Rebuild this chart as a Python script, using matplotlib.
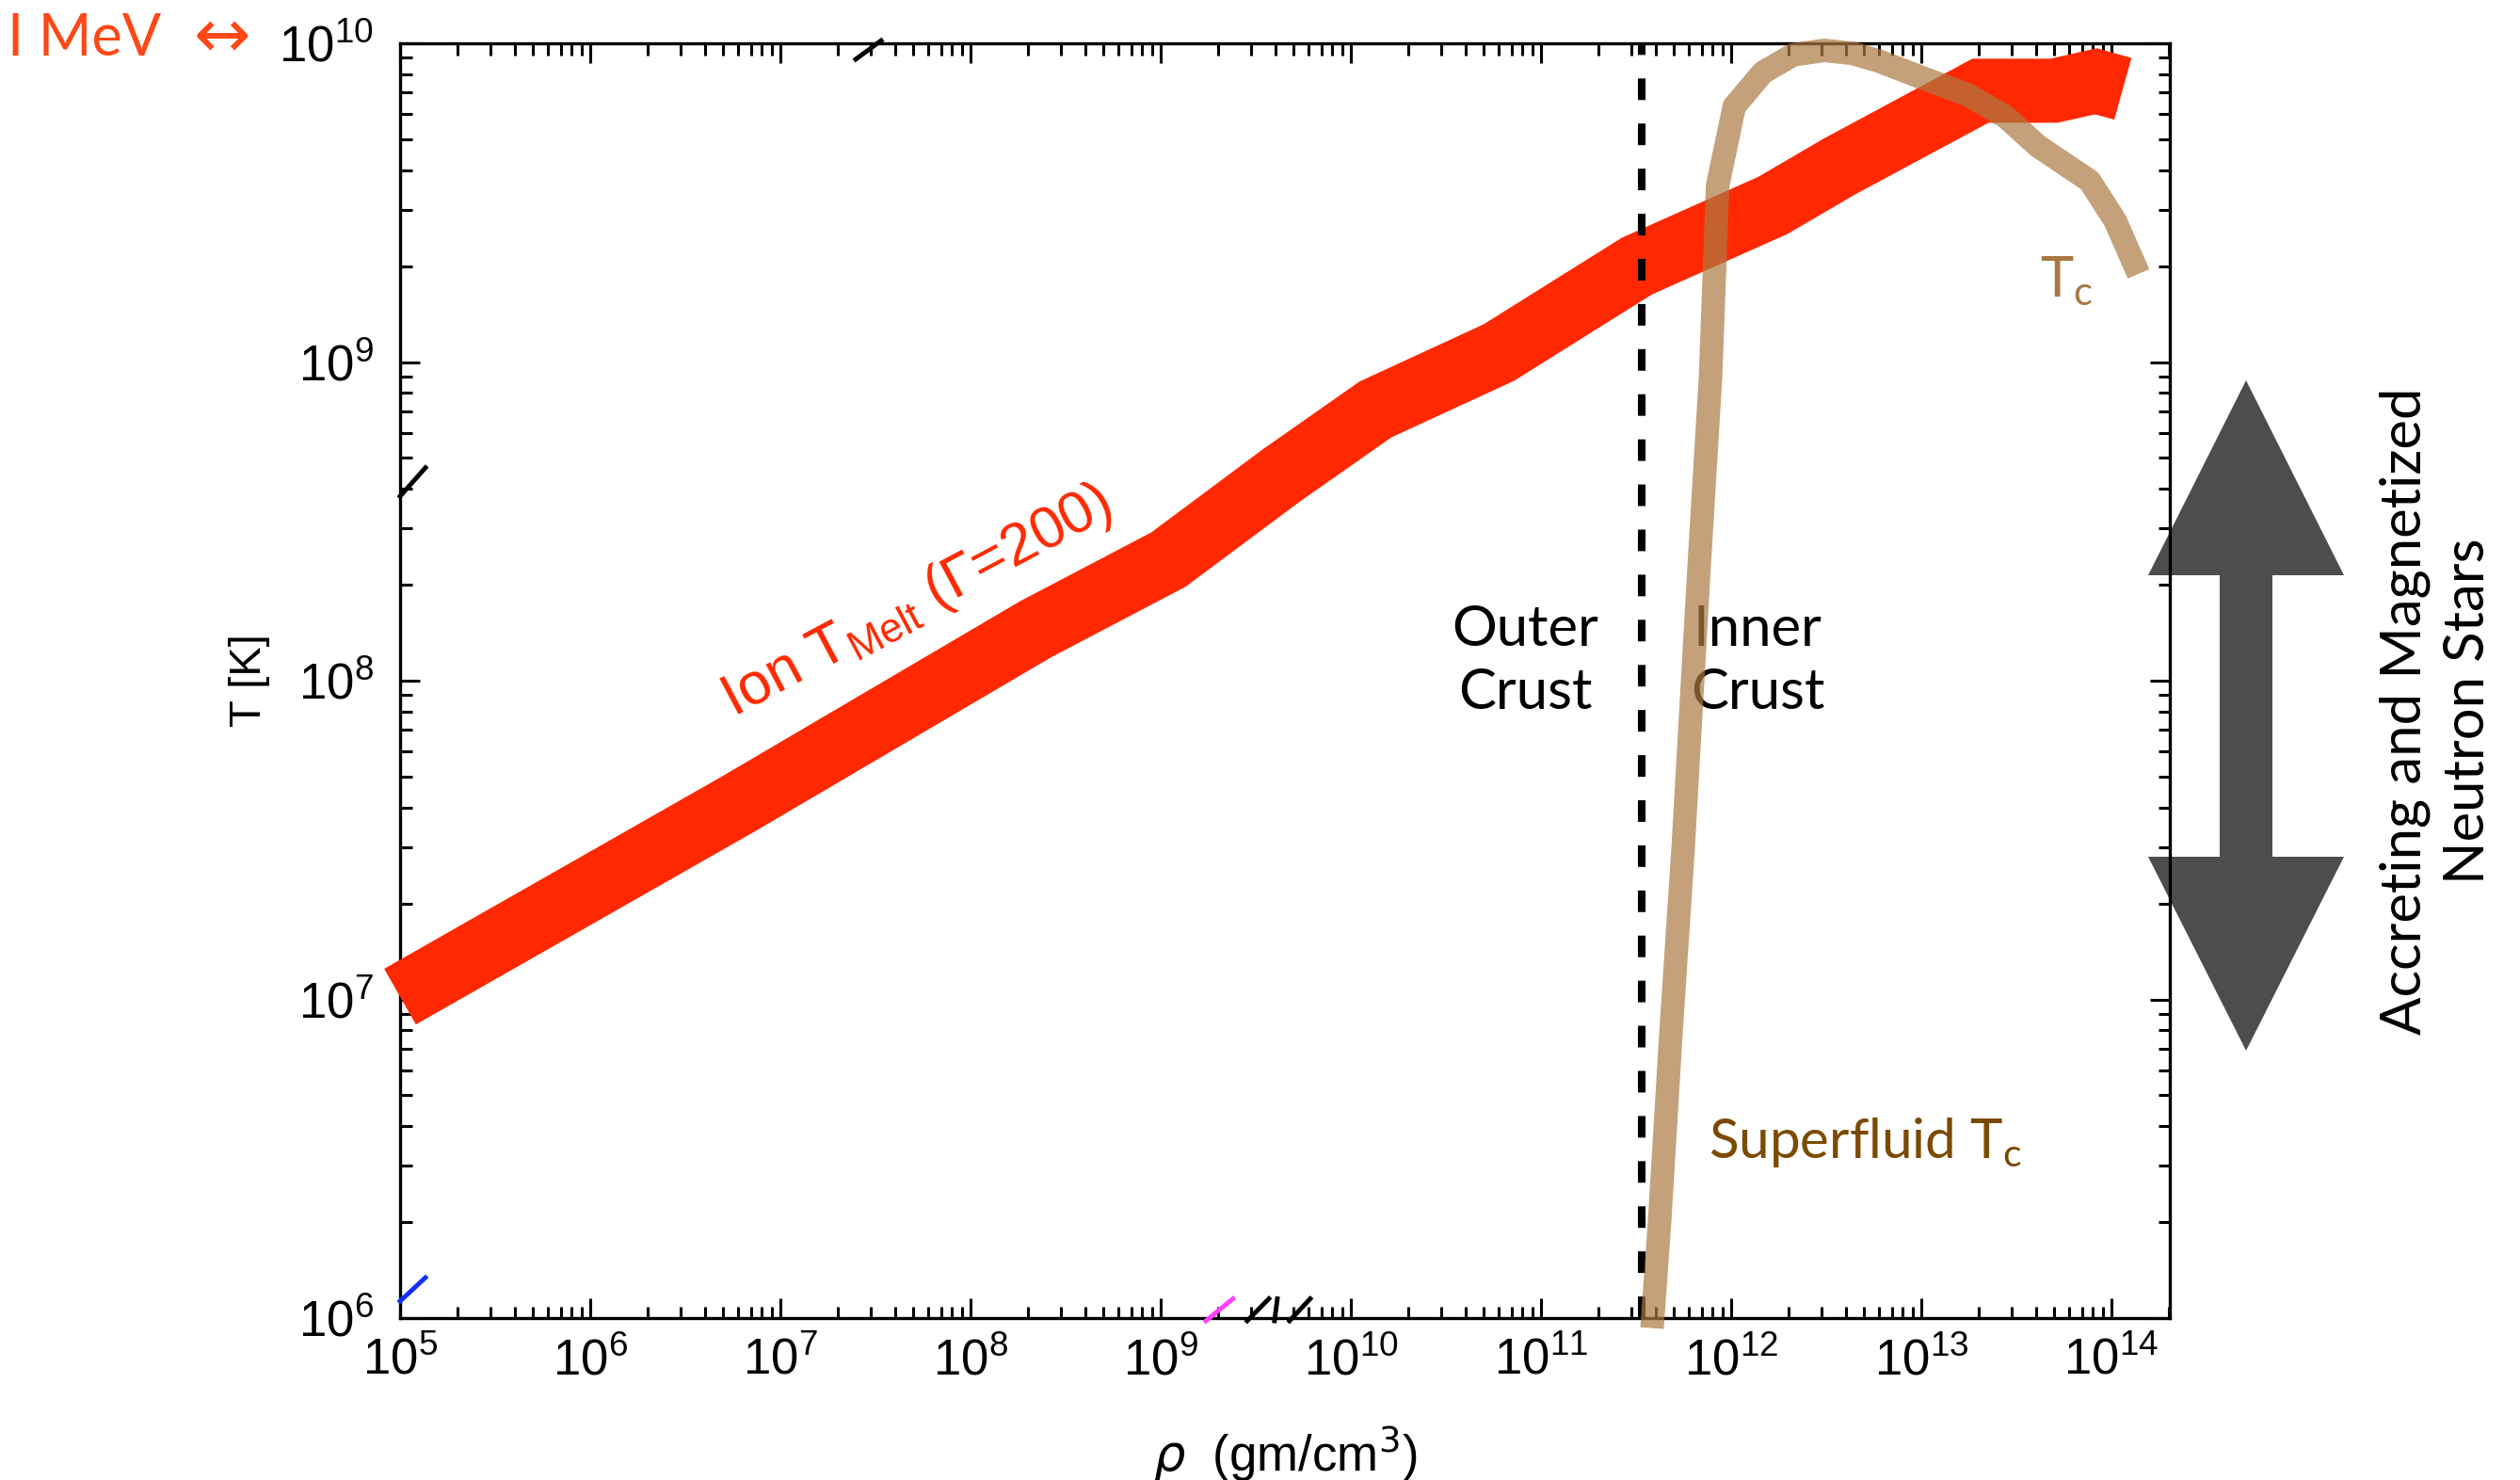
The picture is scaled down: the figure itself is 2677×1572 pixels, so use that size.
import matplotlib
matplotlib.use("Agg")
import matplotlib.pyplot as plt
from matplotlib.patches import Polygon
from matplotlib.ticker import LogLocator, NullFormatter
import numpy as np

# Ion melting temperature (Gamma = 200), drawn as a fat band
melt_rho = [1.0e5, 6.0e6, 2.2e8, 1.1e9, 4.3e9, 1.35e10, 6.0e10, 3.2e11,
            1.66e12, 3.7e12, 2.05e13, 5.0e13, 8.3e13, 1.15e14]
melt_T = [1.02e7, 4.1e7, 1.45e8, 2.4e8, 4.4e8, 7.1e8, 1.07e9, 2.0e9,
          3.1e9, 4.1e9, 7.1e9, 7.1e9, 7.6e9, 7.2e9]

# Superfluid critical temperature
tc_rho = [3.84e11, 4.2e11, 4.82e11, 5.6e11, 6.8e11, 7.8e11, 8.5e11, 1.04e12,
          1.47e12, 2.12e12, 3.09e12, 4.36e12, 5.98e12, 1.01e13, 1.75e13,
          2.76e13, 4.11e13, 7.69e13, 1.05e14, 1.39e14]
tc_T = [9.3e5, 1.97e6, 7.7e6, 3.0e7, 2.31e8, 9.0e8, 3.58e9, 6.34e9,
        8.1e9, 9.2e9, 9.5e9, 9.3e9, 8.8e9, 7.8e9, 6.9e9,
        5.9e9, 4.76e9, 3.7e9, 2.77e9, 1.89e9]

# outer / inner crust boundary
drip_rho = 3.4e11

# leftover bits of other (clipped) curves along the frame
stray_rho = [(2.49e7, 3.39e7), (1.0e5, 1.36e5), (1.0e5, 1.36e5), (1.73e9, 2.40e9),
             (2.85e9, 3.71e9), (3.97e9, 4.11e9), (4.76e9, 6.12e9)]
stray_T = [(8.91e9, 1.02e10), (3.79e8, 4.66e8), (1.13e6, 1.34e6), (9.8e5, 1.15e6),
           (9.8e5, 1.15e6), (9.8e5, 1.15e6), (9.8e5, 1.15e6)]
stray_col = ["black", "black", "#1030ff", "#ff40ff", "black", "black", "black"]

RED = "#ff2800"
TAN = "#ab7a42"
W, H = 2677, 1572


def px(x, y):
    """pixel position (from top-left) -> figure fraction"""
    return x / W, 1 - y / H


plt.rcParams["font.family"] = ["Liberation Sans", "DejaVu Sans"]
plt.rcParams["lines.scale_dashes"] = False

fig = plt.figure(figsize=(W / 100, H / 100), dpi=100)
ax = fig.add_axes([425 / W, 1 - 1400 / H, 1880 / W, 1354 / H])
ax.patch.set_visible(False)

ax.set_xscale("log")
ax.set_yscale("log")
ax.set_xlim(1e5, 2.03e14)
ax.set_ylim(1e6, 1e10)

ax.plot(melt_rho, melt_T, color=RED, lw=49, solid_capstyle="butt",
        solid_joinstyle="miter", zorder=3, clip_on=False)
ax.axvline(drip_rho, color="black", lw=5.8, dashes=(16.5, 18), zorder=4)
for r, t, c in zip(stray_rho, stray_T, stray_col):
    ax.plot(r, t, color=c, lw=3.5, zorder=4, clip_on=False)

ax.text(8.3e10, 8.15e7, "Outer\nCrust", family="Lato", fontsize=43,
        ha="center", va="baseline", linespacing=1.3, zorder=5)
ax.text(1.38e12, 8.15e7, "Inner\nCrust", family="Lato", fontsize=43,
        ha="center", va="baseline", linespacing=1.3, zorder=5)

ax.plot(tc_rho, tc_T, color=TAN, alpha=0.7, lw=18, solid_capstyle="butt",
        solid_joinstyle="round", zorder=6, clip_on=False)

ax.text(7.6e11, 3.18e6, r"Superfluid T$_{\mathdefault{c}}$", family="Lato",
        fontsize=42, color="#7b4a00", ha="left", va="baseline", zorder=7)
ax.text(4.2e13, 1.6e9, r"T$_{\mathdefault{c}}$", family="Lato",
        fontsize=43, color="#a87843", ha="left", va="baseline", zorder=7)
ax.text(5.65e6, 7.7e7, r"Ion T$_{\mathdefault{Melt}}$ (Γ=200)",
        family="Liberation Sans", fontsize=45, color=RED, rotation=28,
        rotation_mode="anchor", ha="left", va="baseline", zorder=7)

# axes styling, IDL-like inward ticks on all sides
for side in ax.spines.values():
    side.set_linewidth(2.4)
ax.xaxis.set_major_locator(LogLocator(base=10, numticks=20))
ax.yaxis.set_major_locator(LogLocator(base=10, numticks=20))
ax.xaxis.set_minor_locator(LogLocator(base=10, subs=np.arange(2, 10), numticks=200))
ax.yaxis.set_minor_locator(LogLocator(base=10, subs=np.arange(2, 10), numticks=200))
ax.xaxis.set_minor_formatter(NullFormatter())
ax.yaxis.set_minor_formatter(NullFormatter())
ax.tick_params(which="both", direction="in", top=True, right=True,
               width=2.2, labelsize=38)
ax.tick_params(which="major", length=15)
ax.tick_params(which="minor", length=9)
ax.tick_params(axis="x", pad=15)
ax.tick_params(axis="y", pad=20)

ax.set_xlabel(r"$\rho$  (gm/cm$^3$)", fontsize=38)
ax.xaxis.set_label_coords(0.5, -0.083)
ax.set_ylabel("T [K]", fontsize=34)
ax.yaxis.set_label_coords(-0.085, 0.5)
ax.yaxis.label.set_va("center")

# double arrow on the right
arrow_px = [(2386, 404), (2490, 611), (2414, 611), (2414, 910), (2490, 910),
            (2386, 1116), (2282, 910), (2358, 910), (2358, 611), (2282, 611)]
ax.add_patch(Polygon([px(x, y) for x, y in arrow_px], closed=True,
                     transform=fig.transFigure, facecolor="#4d4d4d",
                     edgecolor="none", clip_on=False, zorder=1))

fig.text(*px(2588, 755), "Accreting and Magnetized\nNeutron Stars",
         family="Lato", fontsize=43, rotation=90, ha="center", va="center",
         multialignment="center", linespacing=1.3)

fig.text(*px(8, 59), "I MeV", family="Lato", fontsize=44, color="#ff4816",
         ha="left", va="baseline")
fig.text(*px(236, 41), "↔", family="DejaVu Sans", fontsize=52, color="#ff4816",
         ha="center", va="center")

fig.savefig("out.png", dpi=100)
